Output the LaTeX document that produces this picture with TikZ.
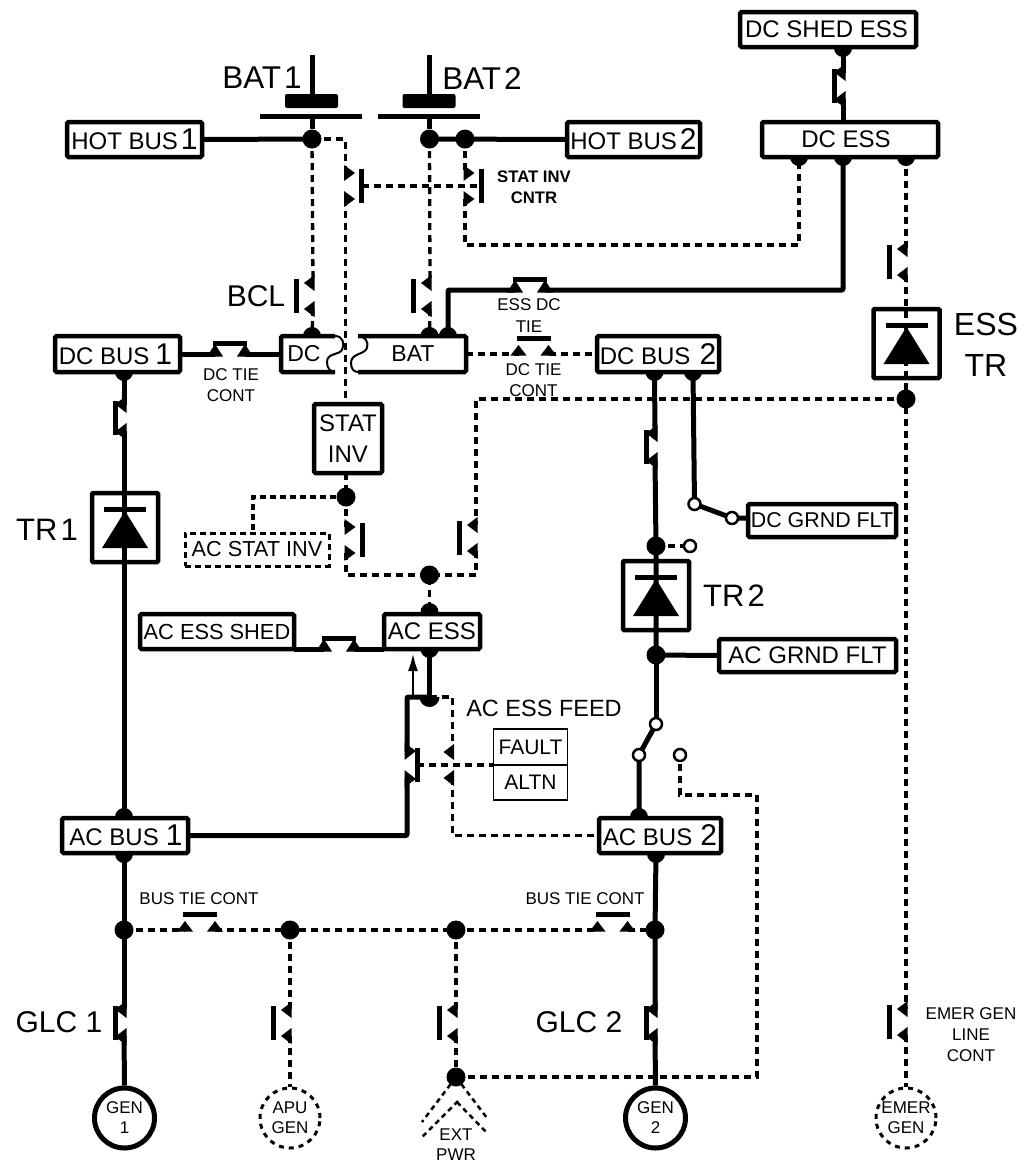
\documentclass[tikz,border=0pt]{standalone}
\usepackage{fontspec}
\setmainfont{Liberation Sans}
\usetikzlibrary{arrows.meta}
\pgfdeclarelayer{bg}
\pgfsetlayers{bg,main}
\newcommand\fs[1]{\fontsize{#1}{#1}\selectfont}
\newcommand\dg[1]{{\fs{30}#1}}
\tikzset{
  pw/.style={line width=5,line join=round,rounded corners=1},
  sig/.style={line width=3.3,dash pattern=on 7 off 5},
  bus/.style={draw,fill=white,line width=4.5,rounded corners=1.5,inner sep=0,outer sep=0,font=\fs{24}},
  dbus/.style={draw,fill=white,line width=3,dash pattern=on 6 off 4,inner sep=0,outer sep=0,font=\fs{21.7}},
  thinbox/.style={draw,fill=white,line width=1.8,inner sep=0,outer sep=0,font=\fs{21}},
  dot/.style={circle,fill=black,inner sep=0,minimum size=19},
  hub/.style={circle,fill=black,inner sep=0,minimum size=18},
  odot/.style={circle,draw,fill=white,line width=2.5,inner sep=0,minimum size=12},
  gen/.style={circle,draw,fill=white,line width=5,inner sep=0,minimum size=60,align=center,font=\fs{17}},
  dgen/.style={circle,draw,fill=white,line width=3,dash pattern=on 5 off 5,inner sep=0,minimum size=60,align=center,font=\fs{17}},
  big/.style={inner sep=0,font=\fs{30},align=center},
  small/.style={inner sep=0,font=\fs{17},align=center},
  bar/.style={line width=5},
}
\newcommand\nbx[7][bus]{\node[#1,minimum width={(#5)-(#3)},minimum height={(#6)-(#4)}] (#2) at ({(#3+#5)/2},{(#4+#6)/2}) {#7};}
% vertical contacts: name, x, yc
\newcommand\ctTL[3]{%
  \coordinate (#1-a) at (#2,{#3-13}); \coordinate (#1-b) at (#2,{#3+13});
  \fill ({#2+1.5},{#3-21}) -- ({#2-9},{#3-13}) -- ({#2+1.5},{#3-5}) -- cycle;
  \fill ({#2+1.5},{#3+5}) -- ({#2-9},{#3+13}) -- ({#2+1.5},{#3+21}) -- cycle;
}
\newcommand\ctOL[3]{%
  \ctTL{#1}{#2}{#3}
  \draw[bar] ({#2-17},{#3-17}) -- ({#2-17},{#3+17});
}
\newcommand\ctOR[3]{%
  \coordinate (#1-a) at (#2,{#3-13}); \coordinate (#1-b) at (#2,{#3+13});
  \coordinate (#1-m) at ({#2+16},#3);
  \fill ({#2-1.5},{#3-21}) -- ({#2+9.5},{#3-13}) -- ({#2-1.5},{#3-5}) -- cycle;
  \fill ({#2-1.5},{#3+5}) -- ({#2+9.5},{#3+13}) -- ({#2-1.5},{#3+21}) -- cycle;
  \draw[bar] ({#2+16},{#3-17}) -- ({#2+16},{#3+17});
}
\newcommand\ctCL[3]{%
  \coordinate (#1-a) at (#2,{#3-13}); \coordinate (#1-b) at (#2,{#3+13});
  \fill ({#2+2.5},{#3-22}) -- ({#2-9},{#3-14}) -- ({#2+2.5},{#3-5}) -- cycle;
  \fill ({#2+2.5},{#3+5}) -- ({#2-9},{#3+14}) -- ({#2+2.5},{#3+22}) -- cycle;
  \draw[bar] ({#2-9},{#3-17}) -- ({#2-9},{#3+17});
}
\newcommand\ctCR[3]{%
  \coordinate (#1-a) at (#2,{#3-13}); \coordinate (#1-b) at (#2,{#3+13});
  \coordinate (#1-m) at ({#2+10},#3);
  \fill ({#2-2.5},{#3-22}) -- ({#2+9},{#3-14}) -- ({#2-2.5},{#3-5}) -- cycle;
  \fill ({#2-2.5},{#3+5}) -- ({#2+9},{#3+14}) -- ({#2-2.5},{#3+22}) -- cycle;
  \draw[bar] ({#2+10},{#3-17}) -- ({#2+10},{#3+17});
}
% horizontal contacts: name, xc, y
\newcommand\ctHO[3]{%
  \coordinate (#1-a) at ({#2-15},#3); \coordinate (#1-b) at ({#2+15},#3);
  \fill ({#2-23},{#3+1.5}) -- ({#2-15},{#3-9}) -- ({#2-7},{#3+1.5}) -- cycle;
  \fill ({#2+7},{#3+1.5}) -- ({#2+15},{#3-9}) -- ({#2+23},{#3+1.5}) -- cycle;
  \draw[bar] ({#2-17},{#3-16}) -- ({#2+17},{#3-16});
}
\newcommand\ctHC[3]{%
  \coordinate (#1-a) at ({#2-15},#3); \coordinate (#1-b) at ({#2+15},#3);
  \fill ({#2-23},{#3+2.5}) -- ({#2-15},{#3-10}) -- ({#2-7},{#3+2.5}) -- cycle;
  \fill ({#2+7},{#3+2.5}) -- ({#2+15},{#3-10}) -- ({#2+23},{#3+2.5}) -- cycle;
  \draw[bar] ({#2-17},{#3-11}) -- ({#2+17},{#3-11});
}
% transformer-rectifier: x, ytop
\newcommand\trbox[2]{%
  \draw[line width=4.5,rounded corners=1] ({#1-33},{#2}) rectangle ({#1+33},{#2+69});
  \draw[bar] ({#1-21},{#2+16}) -- ({#1+21},{#2+16});
  \fill (#1,{#2+18}) -- ({#1-23},{#2+55}) -- ({#1+23},{#2+55}) -- cycle;
}
\begin{document}
\begin{tikzpicture}[x=1pt,y=-1pt]
\useasboundingbox (0,0) rectangle (1028,1163);

% junctions
\node[dot] (j1) at (312,139) {};
\node[dot] (j2) at (429.5,139) {};
\node[dot] (j3) at (465,139) {};
\node[dot] (jess) at (906,399) {};
\node[dot] (jsi) at (346,497) {};
\node[dot] (jac) at (429.5,575) {};
\node[dot] (jt2up) at (656,546) {};
\node[dot] (jt2dn) at (656,655) {};
\node[dot] (jb1) at (124,930) {};
\node[dot] (jb2) at (290,930) {};
\node[dot] (jb3) at (456,930) {};
\node[dot] (jb4) at (655,930) {};
\node[dot] (jx) at (456,1077) {};
% half dots (covered by the boxes)
\node[hub] (hs1) at (843,48) {};
\node[hub] (he1) at (799,157) {};
\node[hub] (he2) at (843,157) {};
\node[hub] (he3) at (906,157) {};
\node[hub] (hd1) at (312,336) {};
\node[hub] (hd2) at (429.5,336) {};
\node[hub] (hd3) at (448,336) {};
\node[hub] (hb1) at (124,372) {};
\node[hub] (hb2a) at (654.5,372) {};
\node[hub] (hb2b) at (693,372) {};
\node[hub] (ha1) at (429.5,612) {};
\node[hub] (ha2) at (429.5,649) {};
\node[hub] (hac1) at (124,817) {};
\node[hub] (hac2) at (124,854) {};
\node[hub] (hac3) at (639,817) {};
\node[hub] (hac4) at (656,854) {};
\coordinate (hfeed) at (429.5,697);
\begin{scope}
  \clip (415,697) rectangle (445,712);
  \fill (hfeed) circle (10);
\end{scope}

% boxes
\nbx{hotbus1}{67}{122}{202}{157}{HOT BUS\hspace{3pt}\dg{1}}
\nbx{hotbus2}{567}{122}{700}{157}{HOT BUS\hspace{3pt}\dg{2}}
\nbx{dcess}{762}{122}{938}{157}{DC ESS\hspace*{8pt}}
\nbx{dcshed}{740}{12}{916}{47}{DC SHED ESS\hspace*{3pt}}
\nbx{dcbus1}{55}{336}{180}{372}{DC BUS\hspace{6pt}\dg{1}\hspace*{4pt}}
\nbx{dcbus2}{597}{336}{719}{372}{DC BUS\hspace{9pt}\dg{2}}
\nbx{acbus1}{62}{818}{188}{853}{\hspace*{2pt}AC BUS\hspace{7pt}\dg{1}}
\nbx{acbus2}{599}{818}{721}{853}{AC BUS\hspace{8pt}\dg{2}}
\nbx{acess}{384}{614}{480}{649}{AC ESS}
\nbx[bus,font=\fs{21.8}]{acshed}{140}{614}{294}{649}{AC ESS SHED}
\nbx[bus,font=\fs{21.4}]{dcgrnd}{748}{504}{896}{537}{DC GRND FLT}
\nbx{acgrnd}{719}{639}{896}{672}{AC GRND FLT}
\nbx[bus,align=center]{statinv}{314}{404}{382}{473}{STAT\\[7pt]INV}
\nbx[dbus]{acstat}{185}{533}{329}{566}{AC STAT INV}
\nbx[thinbox]{fault}{493.5}{729}{567.5}{765}{FAULT}
\nbx[thinbox]{altn}{493.5}{765}{567.5}{800}{ALTN}
\node[gen] (gen1) at (124.5,1118) {GEN\\[3pt]1};
\node[gen] (gen2) at (655.5,1118) {GEN\\[3pt]2};
\node[dgen] (apu) at (290,1118) {APU\\[3pt]GEN};
\node[dgen] (emer) at (906,1118) {EMER\\[3pt]GEN};

% split DC / BAT bus
\fill[white] (335,336) -- (281,336) -- (281,372) -- (335,372) -- cycle;
\draw[line width=4.5,rounded corners=1.5] (335,336) -- (281,336) -- (281,372) -- (335,372);
\draw[line width=2] (335,336) .. controls (343,336) and (345,344) .. (342,350) .. controls (339,355) and (327,353) .. (327,362) .. controls (327,368) and (330,372) .. (335,372);
\fill[white] (358,336) -- (466,336) -- (466,372) -- (358,372) -- cycle;
\draw[line width=4.5,rounded corners=1.5] (358,336) -- (466,336) -- (466,372) -- (358,372);
\draw[line width=2] (358,336) .. controls (365,336) and (369,342) .. (367,348) .. controls (364,355) and (351,353) .. (351,363) .. controls (351,369) and (354,372) .. (358,372);
\node[inner sep=0,font=\fs{23}] (dclbl) at (304,354) {DC};
\node[inner sep=0,font=\fs{23}] (batlbl) at (413,354) {BAT};
\coordinate (dcE) at (281,354);
\coordinate (batE) at (466,354);
\coordinate (batT) at (448,336);

% contacts
\ctOL{bcl}{313}{296}
\ctOL{bat2c}{430}{296}
\ctOR{si1}{345.5}{186}
\ctOR{si2}{465}{186}
\ctOR{si3}{346}{540}
\ctOL{si4}{476}{538}
\ctOL{esstrc}{906}{262}
\ctOL{apuc}{290}{1023}
\ctOL{extc}{456}{1023}
\ctOL{emerc}{906}{1022}
\ctTL{feedalt}{452.5}{765}
\ctCL{shedc}{843}{86}
\ctCL{tr1c}{124}{418}
\ctCL{tr2c}{655}{447}
\ctCL{glc1}{124}{1023}
\ctCL{glc2}{655}{1023}
\ctCR{feedc}{407}{765}
\ctHC{dctie}{230}{354}
\ctHC{essdc}{530}{290}
\ctHC{shedtie}{339}{649}
\ctHO{dctie2}{533.5}{354}
\ctHO{bt1}{200}{930}
\ctHO{bt2}{612.5}{930}

% transformer-rectifiers
\trbox{125}{493}
\trbox{656}{561}
\trbox{906.5}{309}

% battery contactors
\draw[line width=5] (312,55) -- (312,96);
\node[fill,rounded corners=2,inner sep=0,minimum width=53,minimum height=14] (bat1bar) at (311.5,101) {};
\draw[line width=5] (260,116) -- (362,116);
\draw[line width=5] (312,116) -- (j1);
\draw[line width=5] (429,55) -- (429,96);
\node[fill,rounded corners=2,inner sep=0,minimum width=53,minimum height=14] (bat2bar) at (429,101) {};
\draw[line width=5] (378,116) -- (480,116);
\draw[line width=5] (429.5,116) -- (j2);

% connectors
\begin{pgfonlayer}{bg}
  % power lines
  \draw[pw] (hotbus1.east) -- (j1.center);
  \draw[pw] (j2.center) -- (hotbus2.west);
  \draw[pw] (dcshed.south -| shedc-a) -- (shedc-a);
  \draw[pw] (shedc-b) -- (dcess.north -| shedc-b);
  \draw[pw] (dcess.south -| he2) -- (he2 |- essdc-b) -- (essdc-b);
  \draw[pw] (essdc-a) -- (batT |- essdc-a) -- (hd3.center);
  \draw[pw] (dcbus1.east) -- (dctie-a);
  \draw[pw] (dctie-b) -- (dcE);
  \draw[pw] (hb1.center) -- (tr1c-a);
  \draw[pw] (tr1c-b) -- (hac1.center);
  \draw[pw] (hb2a.center) -- (tr2c-a);
  \draw[pw] (tr2c-b) -- (jt2up.center) -- (jt2dn.center);
  \coordinate (s1) at (656,724);
  \coordinate (s2) at (639,755);
  \coordinate (s3) at (694.5,504);
  \coordinate (s4) at (732,518);
  \coordinate (s5) at (680,755);
  \draw[pw] (jt2dn.center) -- (s1);
  \draw[pw] (s1) -- (s2) -- (hac3.center);
  \draw[pw] (hb2b.center) -- (s3) -- (s4) -- (dcgrnd.west |- s4);
  \draw[pw] (jt2dn.center) -- (acgrnd.west);
  \draw[pw] (hac2.center) -- (jb1.center) -- (glc1-a);
  \draw[pw] (glc1-b) -- (gen1.north);
  \draw[pw] (hac4.center) -- (jb4.center) -- (glc2-a);
  \draw[pw] (glc2-b) -- (gen2.north);
  \draw[pw] (acshed.east |- shedtie-a) -- (shedtie-a);
  \draw[pw] (shedtie-b) -- (acess.west |- shedtie-b);
  \draw[pw] (ha2.center) -- (hfeed);
  \draw[pw] (hfeed) -- (feedc-a |- hfeed) -- (feedc-a);
  \draw[pw] (feedc-b) -- (feedc-b |- acbus1.east) -- (acbus1.east);
  % signal lines
  \draw[sig] (j1.center) -- (bcl-a);
  \draw[sig] (bcl-b) -- (hd1.center);
  \draw[sig] (j2.center) -- (bat2c-a);
  \draw[sig] (bat2c-b) -- (hd2.center);
  \draw[sig] (j1.center) -- (si1-a |- j1) -- (si1-a);
  \draw[sig] (si1-b) -- (statinv.north -| si1-b);
  \draw[sig] (si1-m) -- (si2-m);
  \draw[sig] (j3.center) -- (si2-a);
  \draw[sig] (si2-b) -- (si2-b |- 0,245) -- (he1 |- 0,245) -- (he1.center);
  \draw[sig] (he3.center) -- (esstrc-a);
  \draw[sig] (esstrc-b) -- (jess.center) -- (emerc-a);
  \draw[sig] (emerc-b) -- (emer.north);
  \draw[sig] (batE) -- (dctie2-a);
  \draw[sig] (dctie2-b) -- (dcbus2.west);
  \draw[sig] (jess.center) -- (si4-a |- jess) -- (si4-a);
  \draw[sig] (si4-b) -- (si4-b |- jac) -- (jac.center);
  \draw[sig] (statinv.south -| jsi) -- (jsi.center) -- (si3-a);
  \draw[sig] (si3-b) -- (si3-b |- jac) -- (jac.center) -- (ha1.center);
  \draw[sig,dash pattern=on 6 off 4] (jsi.center) -- (253,497) -- (253,533);
  \draw[sig] (jt2up.center) -- (690,546);
  \draw[sig] (hfeed) -- (feedalt-a |- hfeed) -- (feedalt-a);
  \draw[sig] (feedalt-b) -- (feedalt-b |- acbus2.west) -- (acbus2.west);
  \draw[sig] (feedc-m) -- (fault.south west);
  \draw[sig] (jb1.center) -- (bt1-a);
  \draw[sig] (bt1-b) -- (jb2.center) -- (jb3.center) -- (bt2-a);
  \draw[sig] (bt2-b) -- (jb4.center);
  \draw[sig] (jb2.center) -- (apuc-a);
  \draw[sig] (apuc-b) -- (apu.north);
  \draw[sig] (jb3.center) -- (extc-a);
  \draw[sig] (extc-b) -- (jx.center);
  \draw[sig] (jx.center) -- (757,1077) -- (757,795) -- (680,795) -- (s5);
  % external power
  \draw[line width=2.5,dash pattern=on 5 off 4] (jx.center) -- (422,1122);
  \draw[line width=2.5,dash pattern=on 5 off 4] (458,1101) -- (422,1137);
  \draw[line width=2.5,dash pattern=on 5 off 4] (jx.center) -- (487,1118);
  \draw[line width=2.5,dash pattern=on 5 off 4] (457,1102) -- (487,1133);
\end{pgfonlayer}

% feed indicator
\draw[line width=1.6,-{Latex[length=17,width=10]}] (413,696) -- (413,654);

% open terminals
\node[odot] (o1) at (s1) {};
\node[odot] (o2) at (s2) {};
\node[odot] (o3) at (s3) {};
\node[odot] (o4) at (s4) {};
\node[odot] (o5) at (s5) {};
\node[odot] (o6) at (690,546) {};

% labels
\node[big,font=\fs{31.5}] (lb1) at (262,78) {BAT\hspace{3pt}1};
\node[big,font=\fs{31.5}] (lb2) at (482,78) {BAT\hspace{3pt}2};
\node[big] (lbcl) at (256,296) {BCL};
\node[big,font=\fs{32}] (lessr) at (986,345) {ESS\\[9pt]TR};
\node[big,font=\fs{31}] (ltr1) at (47,530) {TR\hspace{3pt}1};
\node[big,font=\fs{31}] (ltr2) at (734,596) {TR\hspace{3pt}2};
\node[big] (lg1) at (59,1022) {GLC 1};
\node[big] (lg2) at (579,1022) {GLC 2};
\node[inner sep=0,font=\fs{16.7}\bfseries,align=center] (lsi) at (534,187) {STAT INV\\[4pt]CNTR};
\node[small] (ldc) at (231,385) {DC TIE\\[4pt]CONT};
\node[small] (less) at (529,316) {ESS DC\\[5pt]TIE};
\node[small] (ldc2) at (533.5,380) {DC TIE\\[4pt]CONT};
\node[inner sep=0,font=\fs{23.5}] (lfeed) at (544,708) {AC ESS FEED};
\node[small] (lbt1) at (199,899) {BUS TIE CONT};
\node[small] (lbt2) at (585,899) {BUS TIE CONT};
\node[small] (lext) at (456,1145) {EXT\\[3pt]PWR};
\node[small] (lem) at (971,1035) {EMER GEN\\[4pt]LINE\\[4pt]CONT};
\end{tikzpicture}
\end{document}
